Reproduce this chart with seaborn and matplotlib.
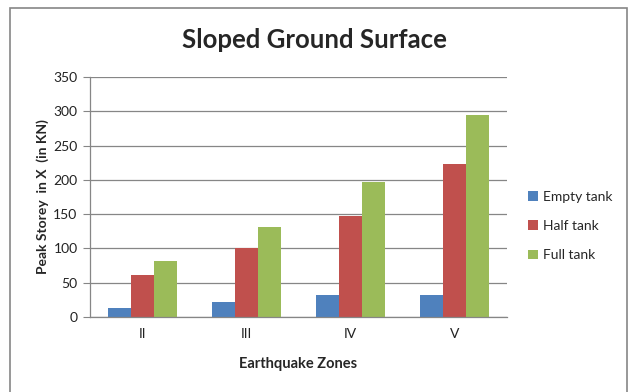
import matplotlib
matplotlib.use("Agg")
import matplotlib.pyplot as plt
import seaborn as sns
import pandas as pd
from matplotlib.patches import Rectangle

zones = ["II", "III", "IV", "V"]
series = ["Empty tank", "Half tank", "Full tank"]
empty_tank = [13, 22, 32, 32]
half_tank = [61, 100, 148, 223]
full_tank = [81, 131, 197, 295]
yticks = [0, 50, 100, 150, 200, 250, 300, 350]
colors = ["#4F81BD", "#C0504D", "#9BBB59"]

rows = []
for s, vals in zip(series, [empty_tank, half_tank, full_tank]):
    for z, v in zip(zones, vals):
        rows.append({"Zone": z, "Series": s, "Value": v})
df = pd.DataFrame(rows)

sns.set_theme(style="white")
plt.rcParams["font.family"] = ["Lato", "DejaVu Sans"]

fig = plt.figure(figsize=(6.28, 3.92), dpi=100)
ax = fig.add_axes([90/628, 1-317/392, (507-90)/628, (317-77)/392])

sns.barplot(data=df, x="Zone", y="Value", hue="Series", order=zones,
            hue_order=series, palette=colors, width=0.66, gap=0,
            saturation=1, ax=ax, edgecolor="none", linewidth=0)

ax.set_ylim(0, 350)
ax.set_yticks(yticks)
ax.set_yticklabels([str(t) for t in yticks], fontsize=10, color="#222222")
ax.set_xlim(-0.5, len(zones) - 0.5)
ax.tick_params(axis="x", length=0, labelsize=10, colors="#222222", pad=8)
ax.tick_params(axis="y", length=5, width=0.8, color="#868686", left=True, pad=4)
ax.yaxis.grid(True, color="#868686", linewidth=0.9)
ax.set_axisbelow(True)
for side in ["top", "right"]:
    ax.spines[side].set_visible(False)
ax.spines["left"].set_color("#868686")
ax.spines["bottom"].set_color("#868686")
ax.spines["left"].set_linewidth(0.9)
ax.spines["bottom"].set_linewidth(0.9)

ax.set_xlabel("Earthquake Zones", fontsize=10.5, fontweight="bold", labelpad=12)
ax.set_ylabel("Peak Storey  in X  (in KN)", fontsize=10, fontweight="bold", labelpad=3)

leg = ax.legend(loc="center left", bbox_to_anchor=(1.02, 0.379), frameon=False,
                fontsize=10, handlelength=0.7, handleheight=0.7, labelspacing=1.25,
                handletextpad=0.4)

fig.text(0.5, 1-40/392, "Sloped Ground Surface", ha="center", va="center",
         fontsize=18.5, fontweight="bold")

fig.patches.append(Rectangle((10/628, -0.05), (627-10)/628, 1.05-8/392,
                             transform=fig.transFigure, fill=False,
                             edgecolor="#868686", linewidth=1.2))

fig.savefig("out.png", dpi=100)
